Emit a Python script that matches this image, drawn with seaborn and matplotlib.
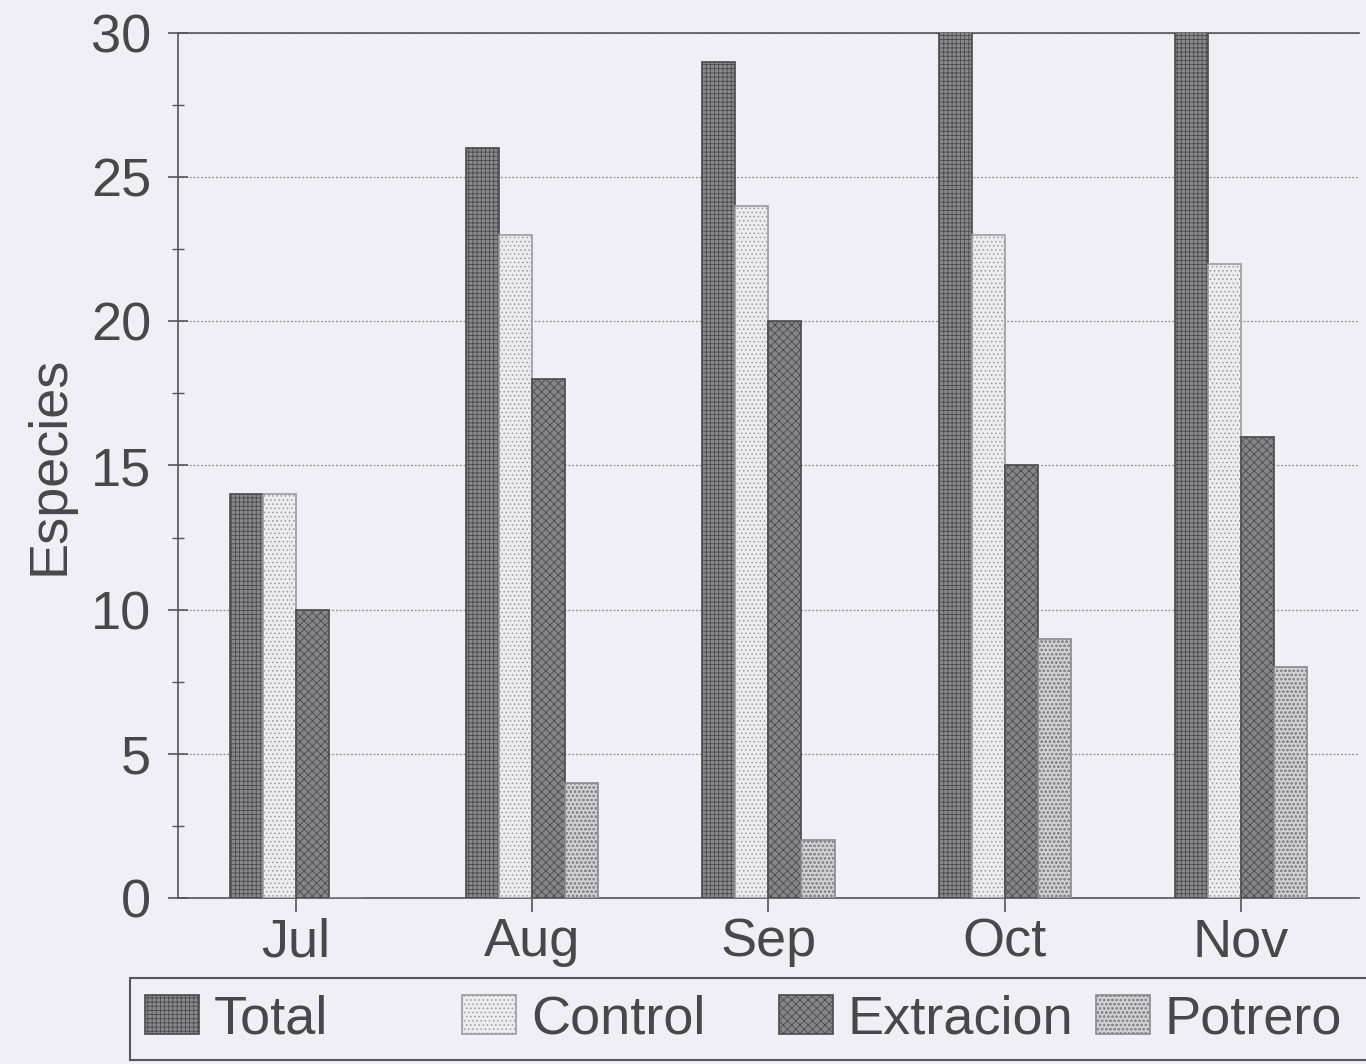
import numpy as np
import pandas as pd
import matplotlib
matplotlib.use("Agg")
import matplotlib.pyplot as plt
import matplotlib.patches as patches
import seaborn as sns

meses = ["Jul", "Aug", "Sep", "Oct", "Nov"]
series = ["Total", "Control", "Extracion", "Potrero"]
total = [14, 26, 29, 31, 31]
control = [14, 23, 24, 23, 22]
extracion = [10, 18, 20, 15, 16]
potrero = [0, 4, 2, 9, 8]

colores = ["#8a8a8e", "#ececf0", "#858589", "#d2d2d6"]
bordes = ["#4a4a4e", "#9a9aa0", "#4a4a4e", "#8a8a90"]
tramas = ["++++", "....", "xxxx", "oooo"]

df = pd.DataFrame({
    "mes": meses * 4,
    "serie": sum([[s] * len(meses) for s in series], []),
    "especies": total + control + extracion + potrero,
})

sns.set_style("white")
plt.rcParams["font.family"] = ["Liberation Sans", "DejaVu Sans"]
plt.rcParams["hatch.linewidth"] = 0.6
bg = "#efeff5"
txt = "#48484c"
fs = 39

fig = plt.figure(figsize=(13.66, 10.64), dpi=100, facecolor=bg)
ax = fig.add_axes([0.130, 0.156, 0.995 - 0.130, 0.969 - 0.156])
ax.set_facecolor(bg)

sns.barplot(data=df, x="mes", y="especies", hue="serie", hue_order=series,
            palette=colores, width=0.56, linewidth=1.2, saturation=1,
            legend=False, ax=ax, zorder=3)

for cont, col, borde, trama in zip(ax.containers, colores, bordes, tramas):
    for bar in cont:
        bar.set_edgecolor(borde)
        bar.set_hatch(trama)

ax.set_ylim(0, 30)
ax.set_yticks(np.arange(0, 31, 5))
ax.set_yticks(np.arange(0, 31, 2.5), minor=True)
ax.yaxis.grid(True, linestyle=(0, (1.5, 1.5)), color="#8a8a90", linewidth=0.9, zorder=0)
ax.set_axisbelow(True)

for s in ["left", "bottom", "top"]:
    ax.spines[s].set_color("#55555a")
    ax.spines[s].set_linewidth(1.2)
ax.spines["right"].set_visible(False)

ax.tick_params(axis="y", which="major", direction="inout", length=14, width=1.2,
               colors="#55555a", labelcolor=txt, labelsize=fs, pad=12, left=True)
ax.tick_params(axis="y", which="minor", direction="inout", length=8, width=1.0,
               colors="#55555a", left=True)
ax.tick_params(axis="x", direction="out", length=10, width=1.2, colors="#55555a",
               labelcolor=txt, labelsize=fs, pad=4, bottom=True)

ax.set_xlabel("")
ax.set_ylabel("Especies", fontsize=fs, color=txt, labelpad=12)

# legend: fixed-width slots like the original, inside one frame
frame = patches.Rectangle((0.095, 0.004), 0.95, 0.077, transform=fig.transFigure,
                          facecolor=bg, edgecolor="#55555a", linewidth=1.5)
fig.patches.append(frame)
slots = [0.106, 0.338, 0.570, 0.802]
for nombre, c, b, h, xs in zip(series, colores, bordes, tramas, slots):
    handle = patches.Patch(facecolor=c, edgecolor=b, hatch=h, linewidth=1.2)
    fig.legend([handle], [nombre], loc="center left", bbox_to_anchor=(xs, 0.042),
               fontsize=fs, frameon=False, handlelength=1.0, handleheight=0.75,
               handletextpad=0.28, borderpad=0, borderaxespad=0, labelcolor=txt)

fig.savefig("out.png", dpi=100, facecolor=bg)
